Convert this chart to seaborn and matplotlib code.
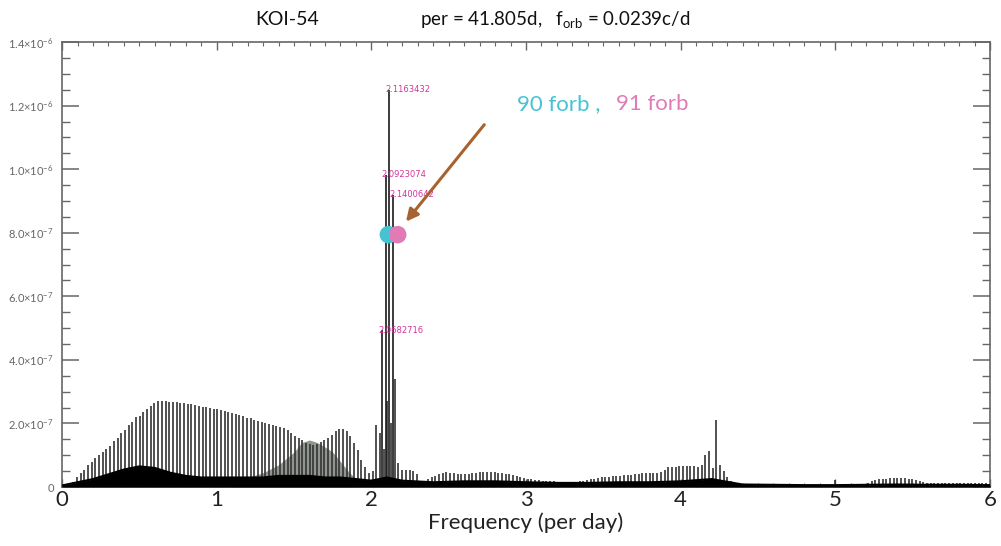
import numpy as np
import pandas as pd
import matplotlib
matplotlib.use('Agg')
import matplotlib.pyplot as plt
import seaborn as sns

# orbital harmonics comb, heights in units of 1e-8
f_orb = 0.0239
harm_height = [
    0.5, 1, 1.5, 3, 4.5, 5.5, 7, 8, 9, 10,
    11, 12, 13, 14.5, 15.5, 17, 18, 19.5, 20.5, 22,
    22.5, 23.5, 24.5, 25.5, 26.5, 27, 27, 27, 26.8, 26.8,
    26.6, 26.5, 26.4, 26.2, 26, 25.8, 25.6, 25.3, 25.1, 24.9,
    24.7, 24.4, 24.1, 23.9, 23.6, 23.3, 23, 22.6, 22.2, 21.8,
    21.6, 21.2, 20.8, 20.5, 20.2, 19.9, 19.6, 19.3, 19, 18.6,
    17.8, 17, 16.2, 15.5, 14.8, 14, 13.5, 13.2, 13.5, 14.2,
    14.8, 15.5, 16.5, 17.5, 18.2, 18.3, 17.5, 16.2, 14, 11.5,
    8.5, 6.3, 4.5, 5, 19.5, 17, 12, 27, 20, 34,
    7.5, 5.5, 5.4, 5.3, 5.2, 4, 2, 1.6, 2.5, 3,
    3.5, 4, 4.3, 4.6, 4.5, 4.3, 4.1, 4, 4, 4.1,
    4.3, 4.5, 4.6, 4.7, 4.7, 4.7, 4.6, 4.5, 4.3, 4.1,
    4, 3.8, 3.5, 3.2, 2.9, 2.6, 2.5, 2.3, 2.2, 2.0,
    1.9, 1.9, 1.8, 1.7, 1.6, 1.4, 1.3, 1.3, 1.5, 1.8,
    2.0, 2.2, 2.4, 2.6, 2.8, 3.0, 3.1, 3.3, 3.4, 3.5,
    3.6, 3.7, 3.8, 3.9, 4.0, 4.2, 4.3, 4.4, 4.5, 4.5,
    4.5, 4.6, 5.5, 6.3, 6.3, 6.4, 6.5, 6.5, 6.5, 6.5,
    6.5, 6.4, 7, 10, 11.3, 6, 21, 7, 5, 3,
    2, 1.2, 1, 0.9, 0.8, 0.8, 0.9, 0.8, 0.7, 0.8,
    0.9, 1.0, 1.1, 1.0, 0.9, 0.8, 0.7, 0.6, 0.6, 0.5,
    0.5, 0.6, 0.7, 0.6, 0.5, 0.5, 0.4, 0.5, 2.2, 0.5,
    0.4, 0.6, 0.4, 0.5, 0.6, 0.5, 0.6, 1.2, 1.8, 2.2,
    2.4, 2.5, 2.6, 2.7, 2.7, 2.8, 2.8, 2.7, 2.6, 2.4,
    2.2, 1.9, 1.6, 1.4, 1.3, 1.3, 1.3, 1.4, 1.4, 1.3,
    1.3, 1.4, 1.3, 1.3, 1.4, 1.3, 1.2, 1.3, 1.2, 1.2, 1.1,
]
harm_n = np.arange(1, len(harm_height) + 1)

# labelled peaks
peak_freq = [2.0682716, 2.0923074, 2.1163432, 2.1400642]
peak_height = [0.494e-6, 0.982e-6, 1.25e-6, 0.92e-6]
peak_label = ['2.0682716', '2.0923074', '2.1163432', '2.1400642']

# dense noise floor (units 1e-8)
floor_freq = [0, 0.1, 0.2, 0.3, 0.4, 0.5, 0.6, 0.7, 0.8, 0.9, 1.0, 1.1, 1.2, 1.3,
              1.4, 1.5, 1.6, 1.7, 1.8, 1.9, 2.0, 2.1, 2.2, 2.4, 2.6, 2.8, 3.0,
              3.2, 3.4, 3.6, 3.8, 4.0, 4.2, 4.4, 4.6, 4.8, 5.0, 5.2, 5.4, 5.6,
              5.8, 6.0]
floor_height = [0.5, 1.5, 2.5, 4, 5.5, 6.5, 6, 4.5, 3.5, 3, 3, 3, 3, 3,
                3.5, 3.5, 3.5, 3, 3, 2.5, 2, 3, 2, 1.5, 1.8, 1.8, 1.5,
                1.3, 1.3, 1.5, 1.5, 1.8, 2.5, 0.8, 0.7, 0.6, 0.6, 0.7, 0.8, 0.7,
                0.7, 0.6]

# grey hump 1.1 - 1.9 c/d (units 1e-8)
hump_freq = [1.1, 1.2, 1.3, 1.4, 1.5, 1.55, 1.6, 1.65, 1.7, 1.75, 1.8, 1.85, 1.9]
hump_height = [2, 3, 4.5, 7, 11, 14, 14.8, 14, 12.6, 11, 8, 5, 2.5]

# the two marked harmonics
dot_freq = [2.11, 2.17]
dot_power = [0.794e-6, 0.794e-6]
dot_name = ['90 forb', '91 forb']

ytick_vals = [0, 2e-7, 4e-7, 6e-7, 8e-7, 1.0e-6, 1.2e-6, 1.4e-6]
ytick_text = ['0', r'$2.0{\times}10^{-7}$', r'$4.0{\times}10^{-7}$', r'$6.0{\times}10^{-7}$',
              r'$8.0{\times}10^{-7}$', r'$1.0{\times}10^{-6}$', r'$1.2{\times}10^{-6}$',
              r'$1.4{\times}10^{-6}$']

sns.set_style('ticks')
plt.rcParams['font.family'] = ['Lato', 'DejaVu Sans']
plt.rcParams['mathtext.fontset'] = 'custom'
plt.rcParams['mathtext.rm'] = 'Lato'
plt.rcParams['mathtext.it'] = 'Lato:italic'

fig = plt.figure(figsize=(10.01, 5.46), dpi=100)
ax = fig.add_axes([0.062, 0.108, 0.927, 0.815])

hf = harm_n * f_orb
hh = np.array(harm_height) * 1e-8

# grey hump
ax.fill_between(hump_freq, 0, np.array(hump_height) * 1e-8, color='#8f958f', lw=0, zorder=1)
# harmonic comb
ax.vlines(hf, 0, hh, colors='#333333', lw=1.2, zorder=2)
# labelled peaks
ax.vlines(peak_freq, 0, peak_height, colors='#1a1a1a', lw=1.2, zorder=3)
# noise floor
fl = pd.DataFrame({'f': floor_freq, 'p': np.array(floor_height) * 1e-8})
ax.fill_between(fl['f'], 0, fl['p'], color='black', lw=0, zorder=4)
sns.lineplot(data=fl, x='f', y='p', color='black', lw=1.5, ax=ax, zorder=4)

for f, h, t in zip(peak_freq, peak_height, peak_label):
    ax.text(f - 0.025, h, t, color='#d0359a', fontsize=6, ha='left', va='center',
            family='DejaVu Sans', zorder=6)

# dots
dots = pd.DataFrame({'f': dot_freq, 'p': dot_power, 'name': dot_name})
sns.scatterplot(data=dots, x='f', y='p', hue='name', palette=['#45c3d3', '#e07bb5'],
                s=160, edgecolor='none', legend=False, ax=ax, zorder=7)

ax.text(2.94, 1.185e-6, '90 forb ,', color='#45c3d3', fontsize=16, va='baseline', ha='left')
ax.text(3.58, 1.185e-6, '91 forb', color='#e07bb5', fontsize=16, va='baseline', ha='left')

ax.annotate('', xy=(2.224, 0.835e-6), xytext=(2.73, 1.14e-6),
            arrowprops=dict(arrowstyle='-|>', color='#a8622f', lw=2.2,
                            mutation_scale=18, shrinkA=0, shrinkB=0), zorder=8)

ax.set_xlim(0, 6)
ax.set_ylim(0, 1.4e-6)
ax.set_xticks(range(7))
ax.set_xticks(np.arange(0, 6.01, 0.1), minor=True)
ax.set_yticks(ytick_vals)
ax.set_yticklabels(ytick_text)
ax.set_yticks(np.arange(0, 1.401e-6, 0.5e-7), minor=True)
ax.tick_params(axis='y', which='major', direction='in', length=12, width=1.1, color='#666666',
               labelsize=8, labelcolor='#666666', right=True, left=True, pad=6)
ax.tick_params(axis='y', which='minor', direction='in', length=6, width=1.0, color='#666666',
               right=True, left=True)
ax.tick_params(axis='x', which='major', direction='in', length=6, width=1.0, color='#666666',
               labelsize=16, labelcolor='#222222', top=True, bottom=True, pad=2)
ax.tick_params(axis='x', which='minor', direction='in', length=3, width=0.8, color='#666666',
               top=True, bottom=True)
for s in ax.spines.values():
    s.set_color('#666666')
    s.set_linewidth(1.2)

ax.set_xlabel('Frequency (per day)', fontsize=16, color='#222222', labelpad=2)
ax.set_ylabel('')

fig.text(0.255, 0.955, 'KOI-54', fontsize=14, color='#111111', ha='left', va='baseline')
fig.text(0.42, 0.955, r'per = 41.805d,   f$_{\mathrm{orb}}$ = 0.0239c/d', fontsize=13.5,
         color='#111111', ha='left', va='baseline')

fig.savefig('out.png', dpi=100)
